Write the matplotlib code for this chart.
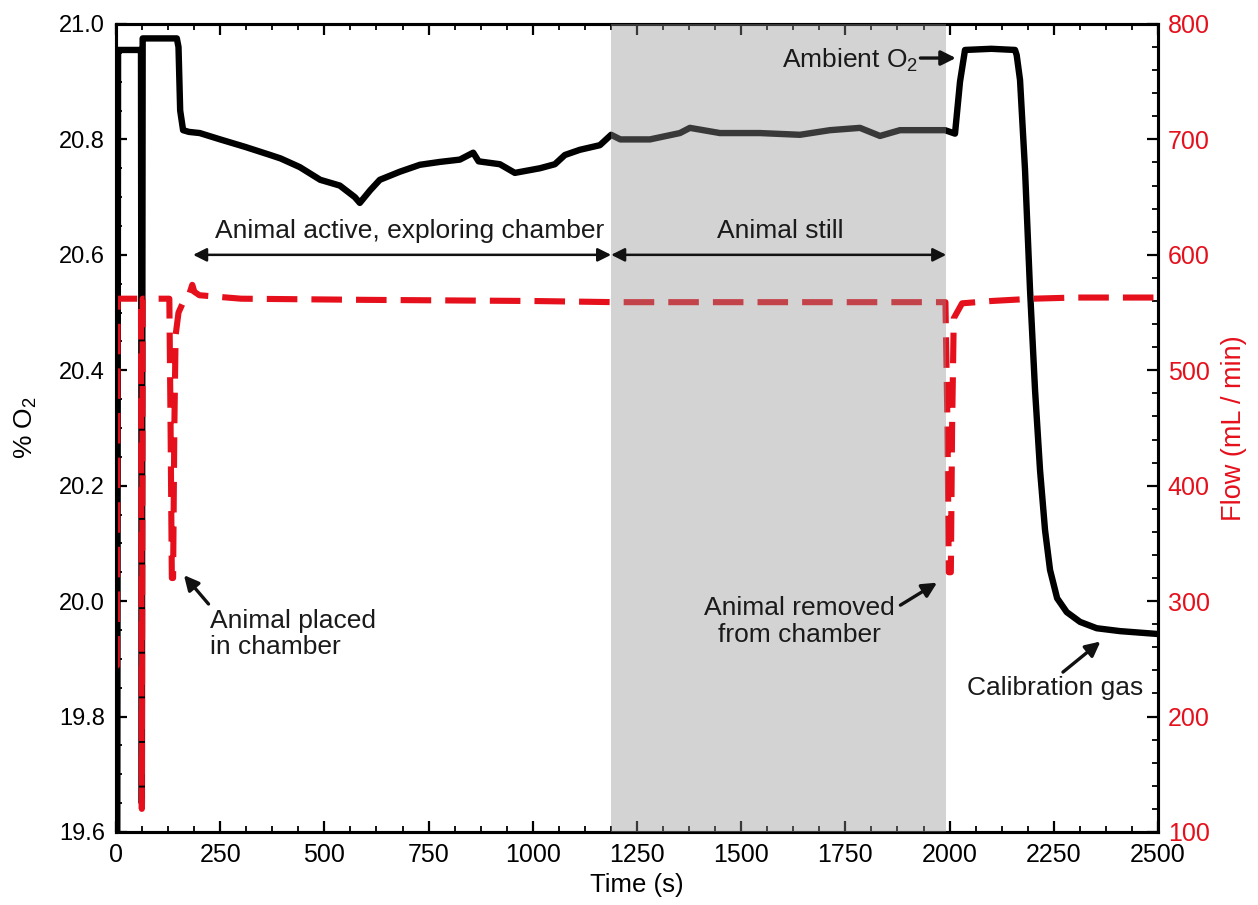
import numpy as np
import matplotlib
matplotlib.use('Agg')
from matplotlib import pyplot as plt
from matplotlib.ticker import MultipleLocator

plt.rcParams['font.family'] = ['Liberation Sans', 'DejaVu Sans']
plt.rcParams['mathtext.fontset'] = 'custom'
plt.rcParams['mathtext.rm'] = 'Liberation Sans'
plt.rcParams['mathtext.it'] = 'Liberation Sans:italic'

# % O2 trace (time in s)
o2_time = [0, 3, 5, 58, 60, 62, 64, 70, 146, 150, 154, 161, 175, 201, 250, 310, 370, 395, 441,
           490, 537, 573, 585, 610, 633, 681, 729, 777, 825, 857, 870, 921, 957, 1017, 1053,
           1077, 1113, 1161, 1188, 1210, 1281, 1353, 1377, 1449, 1545, 1641, 1713, 1785, 1833,
           1881, 1989, 2013, 2025, 2037, 2100, 2157, 2161, 2169, 2181, 2193, 2205, 2217, 2229,
           2241, 2258, 2281, 2313, 2353, 2409, 2500]
o2_value = [19.5, 19.5, 20.955, 20.955, 20.955, 19.65, 20.975, 20.975, 20.975, 20.96, 20.85,
            20.816, 20.813, 20.811, 20.80, 20.787, 20.773, 20.767, 20.752, 20.73, 20.72, 20.70,
            20.69, 20.712, 20.73, 20.744, 20.756, 20.761, 20.765, 20.777, 20.762, 20.757, 20.742,
            20.75, 20.757, 20.773, 20.782, 20.79, 20.808, 20.80, 20.80, 20.811, 20.82, 20.811,
            20.811, 20.808, 20.816, 20.82, 20.806, 20.816, 20.816, 20.81, 20.90, 20.955, 20.957,
            20.955, 20.946, 20.903, 20.747, 20.539, 20.366, 20.227, 20.123, 20.054, 20.005,
            19.981, 19.964, 19.953, 19.948, 19.943]

# flow trace (mL/min)
flow_time = [0, 2, 4, 60, 62, 64, 128, 131, 134, 137, 140, 143, 150, 160, 175, 183, 188, 200,
             300, 600, 1000, 1200, 1600, 1990, 1995, 1998, 2003, 2006, 2010, 2030, 2100, 2200,
             2300, 2500]
flow_value = [244, 244, 562, 562, 120, 562, 562, 450, 320, 320, 450, 530, 550, 558, 565, 574,
              568, 565, 562, 561, 560, 559, 559, 559, 450, 325, 325, 450, 545, 558, 560, 562,
              563, 563]

still_start, still_end = 1188, 1992
red = '#e5101c'
ink = '#1a1a1a'

fig = plt.figure(figsize=(12.58, 9.05), dpi=100)
ax = fig.add_axes([0.0922, 0.0807, 0.8283, 0.8928])
ax2 = ax.twinx()

ax.plot(o2_time, o2_value, color='black', lw=4.6, solid_joinstyle='round', zorder=2)
ax2.plot(flow_time, flow_value, color=red, lw=4.4, dashes=(5, 2.3), zorder=2)
ax2.axvspan(still_start, still_end, color=(0.57, 0.57, 0.57), alpha=0.4, lw=0, zorder=3)

ax.set_xlim(0, 2500)
ax.set_ylim(19.6, 21.0)
ax2.set_ylim(100, 800)

ax.xaxis.set_major_locator(MultipleLocator(250))
ax.xaxis.set_minor_locator(MultipleLocator(62.5))
ax.yaxis.set_major_locator(MultipleLocator(0.2))
ax.yaxis.set_minor_locator(MultipleLocator(0.05))
ax2.yaxis.set_major_locator(MultipleLocator(100))
ax2.yaxis.set_minor_locator(MultipleLocator(20))
ax.yaxis.set_major_formatter(plt.FormatStrFormatter('%.1f'))

ax.tick_params(axis='x', which='both', direction='in', top=True, bottom=True)
ax.tick_params(axis='y', which='both', direction='in', left=True, right=False)
ax.tick_params(which='major', length=8, width=1.6)
ax.tick_params(which='minor', length=4.5, width=1.3)
ax.tick_params(axis='x', which='major', labelsize=18, pad=8)
ax.tick_params(axis='y', which='major', labelsize=17, pad=8)
ax2.tick_params(which='both', direction='in', labelcolor=red)
ax2.tick_params(which='major', length=8, width=1.6, labelsize=18, pad=7)
ax2.tick_params(which='minor', length=4.5, width=1.3)
for a in (ax, ax2):
    for s in a.spines.values():
        s.set_linewidth(2.2)

ax.set_xlabel('Time (s)', fontsize=18.5, labelpad=4)
ax.set_ylabel(r'% $\mathregular{O_2}$', fontsize=19, labelpad=14)
ax2.set_ylabel('Flow (mL / min)', fontsize=19.5, color=red, labelpad=8)

fs = 19
tc = ax.transData
arrow = dict(arrowstyle='-|>', color='#111111', lw=2.4, mutation_scale=22, shrinkA=0, shrinkB=0)
darrow = dict(arrowstyle='<|-|>', color='#111111', lw=1.8, mutation_scale=20, shrinkA=0, shrinkB=0)

ax2.annotate('', xy=(185, 20.6), xytext=(still_start, 20.6), xycoords=tc, textcoords=tc,
             arrowprops=darrow, zorder=5)
ax2.annotate('', xy=(still_start, 20.6), xytext=(still_end, 20.6), xycoords=tc, textcoords=tc,
             arrowprops=darrow, zorder=5)
ax2.text(705, 20.641, 'Animal active, exploring chamber', transform=tc, ha='center',
         va='center', fontsize=fs, color=ink, zorder=5)
ax2.text(1593, 20.641, 'Animal still', transform=tc, ha='center', va='center', fontsize=fs,
         color=ink, zorder=5)

ax2.text(1924, 20.924, r'Ambient $\mathregular{O_2}$', transform=tc, ha='right',
         va='baseline', fontsize=fs, color=ink, zorder=5)
ax2.annotate('', xy=(2015, 20.941), xytext=(1930, 20.941), xycoords=tc, textcoords=tc,
             arrowprops=arrow, zorder=5)
ax2.text(225, 19.987, 'Animal placed\nin chamber', transform=tc, ha='left', va='top',
         fontsize=fs, color=ink, linespacing=1.15, zorder=5)
ax2.annotate('', xy=(163, 20.045), xytext=(222, 19.995), xycoords=tc, textcoords=tc,
             arrowprops=arrow, zorder=5)
ax2.text(1640, 20.008, 'Animal removed\nfrom chamber', transform=tc, ha='center', va='top',
         fontsize=fs, color=ink, linespacing=1.15, zorder=5)
ax2.annotate('', xy=(1970, 20.032), xytext=(1882, 19.993), xycoords=tc, textcoords=tc,
             arrowprops=arrow, zorder=5)
ax2.text(2253, 19.85, 'Calibration gas', transform=tc, ha='center', va='center',
         fontsize=fs, color=ink, zorder=5)
ax2.annotate('', xy=(2362, 19.93), xytext=(2272, 19.877), xycoords=tc, textcoords=tc,
             arrowprops=arrow, zorder=5)

fig.savefig('out.png', dpi=100)
